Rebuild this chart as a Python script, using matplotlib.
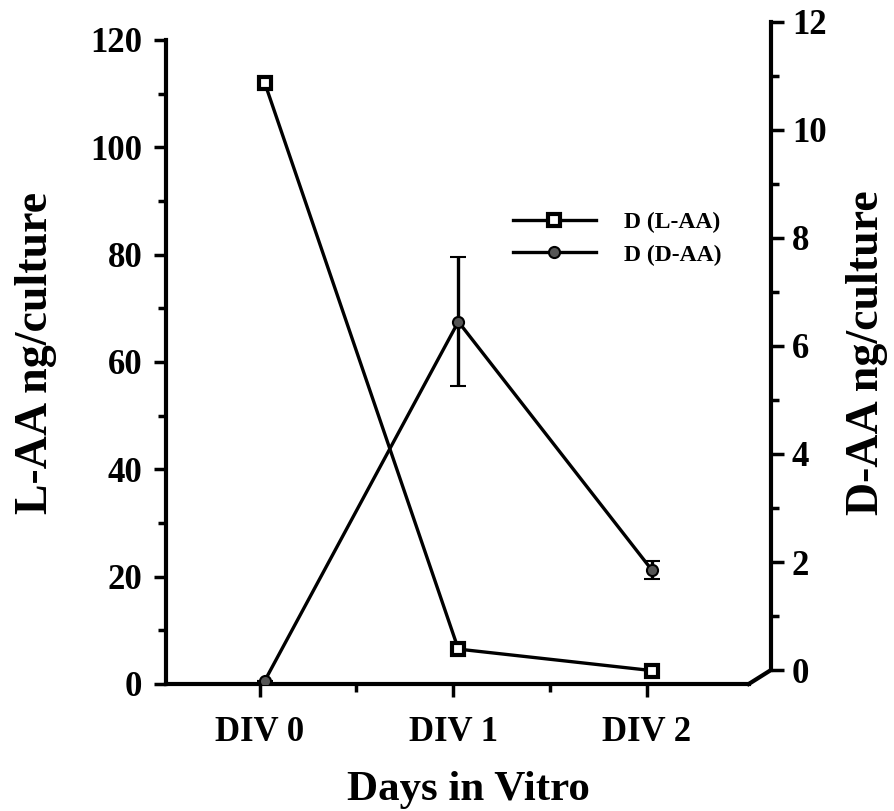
import numpy as np
import matplotlib
matplotlib.use('Agg')
import matplotlib.pyplot as plt
from matplotlib.ticker import MultipleLocator

plt.rcParams['font.family'] = 'Liberation Serif'
plt.rcParams['font.weight'] = 'bold'

# data
days = ['DIV 0', 'DIV 1', 'DIV 2']
laa = [112.0, 6.5, 2.5]          # left axis, ng/culture
daa = [-0.2, 6.45, 1.85]         # right axis, ng/culture
daa_err = [0.0, 1.2, 0.17]

x = np.arange(len(days))

fig = plt.figure(figsize=(8.94, 8.11), dpi=100)
ax = fig.add_axes([0.1857, 0.1566, 0.8624 - 0.1857, 0.9729 - 0.1566])
ax2 = ax.twinx()

lw = 2.4
l1, = ax.plot(x, laa, color='black', lw=lw, marker='s', ms=8,
              mfc='white', mec='black', mew=3, zorder=3)
l2 = ax2.errorbar(x, daa, yerr=daa_err, color='black', lw=lw, marker='o', ms=8,
                  mfc='#555555', mec='black', mew=1.5, capsize=6, capthick=2.5,
                  elinewidth=2.4)

xmin, xmax = -0.51, 2.615
ax.set_xlim(xmin, xmax)
ax.set_ylim(0, 123.35)
ax2.set_ylim(-0.259, 12)

# spines
for s in ['top', 'right']:
    ax.spines[s].set_visible(False)
for s in ['top', 'left', 'bottom']:
    ax2.spines[s].set_visible(False)
ax.spines['left'].set_bounds(0, 120)
ax.spines['bottom'].set_bounds(xmin, 2.5)
ax2.spines['right'].set_bounds(0, 12)
for sp in [ax.spines['left'], ax.spines['bottom'], ax2.spines['right']]:
    sp.set_linewidth(3)
# little slanted link between x axis and right axis
ax2.plot([2.5, xmax], [-0.259, 0], color='black', lw=3, clip_on=False)

# ticks
ax.set_xticks(x - 0.027)
ax.set_xticklabels(days)
ax.set_xticks([0.5 - 0.027, 1.5 - 0.027], minor=True)
ax.set_yticks(np.arange(0, 121, 20))
ax.yaxis.set_minor_locator(MultipleLocator(10))
ax2.set_yticks(np.arange(0, 13, 2))
ax2.set_yticks([v for v in range(1, 12, 2)], minor=True)

ax.tick_params(axis='both', which='major', direction='out', length=9, width=2.5,
               labelsize=25, pad=8)
ax.tick_params(axis='both', which='minor', direction='out', length=6, width=2.5)
ax2.tick_params(axis='y', which='major', direction='out', length=9, width=2.5,
                labelsize=25, pad=6)
ax2.tick_params(axis='y', which='minor', direction='out', length=6, width=2.5)
ax.tick_params(axis='x', pad=14)

ax.set_xlabel('Days in Vitro', fontsize=31, fontweight='bold', labelpad=16)
ax.set_ylabel('L-AA ng/culture', fontsize=33, fontweight='bold', labelpad=24)
ax2.set_ylabel('D-AA ng/culture', fontsize=33, fontweight='bold', labelpad=14)

leg = fig.legend([l1, l2[0]], ['D (L-AA)', 'D (D-AA)'], loc='upper left',
                 bbox_to_anchor=(513 / 894, 1 - 212 / 811), frameon=False,
                 fontsize=17, handlelength=3.5, handletextpad=1.2,
                 labelspacing=0.45, borderpad=0, borderaxespad=0)

plt.savefig('out.png', dpi=100)
